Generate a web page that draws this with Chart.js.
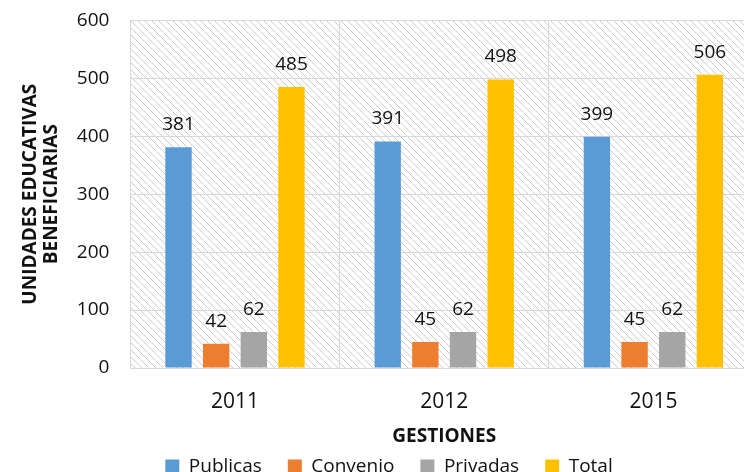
<!DOCTYPE html>
<html>
<head>
<meta charset="utf-8">
<script src="https://cdn.jsdelivr.net/npm/chart.js@4/dist/chart.umd.min.js"></script>
<style>
  html, body { margin: 0; padding: 0; background: #fff; overflow: hidden; }
  #wrap { width: 800px; height: 498px; margin-top: -12px; }
</style>
</head>
<body>
<div id="wrap"><canvas id="chart" width="800" height="498"></canvas></div>
<script>
const years = ["2011", "2012", "2015"]
const publicas = [381, 391, 399]
const convenio = [42, 45, 45]
const privadas = [62, 62, 62]
const total = [485, 498, 506]
const yTicks = [0, 100, 200, 300, 400, 500, 600]

const FONT = "'Open Sans', sans-serif"

// Diagonal hatch behind the plot
function hatchPattern(ctx) {
  const s = 7
  const c = document.createElement("canvas")
  c.width = s
  c.height = s
  const p = c.getContext("2d")
  p.strokeStyle = "#cccccc"
  p.lineWidth = 1
  p.beginPath()
  p.moveTo(-1, -1); p.lineTo(s + 1, s + 1)
  p.moveTo(-1, s - 1); p.lineTo(1, s + 1)
  p.moveTo(s - 1, -1); p.lineTo(s + 1, 1)
  p.stroke()
  return ctx.createPattern(c, "repeat")
}

const hatchPlugin = {
  id: "hatch",
  beforeDraw(chart) {
    const { ctx, chartArea: a } = chart
    ctx.save()
    ctx.fillStyle = hatchPattern(ctx)
    ctx.fillRect(a.left, a.top, a.right - a.left, a.bottom - a.top)
    ctx.restore()
  },
}

// Value labels above each bar
const labelPlugin = {
  id: "valueLabels",
  afterDatasetsDraw(chart) {
    const { ctx } = chart
    ctx.save()
    ctx.font = "19px " + FONT
    ctx.fillStyle = "#111"
    ctx.textAlign = "center"
    ctx.textBaseline = "alphabetic"
    chart.data.datasets.forEach((ds, i) => {
      chart.getDatasetMeta(i).data.forEach((bar, j) => {
        ctx.fillText(ds.data[j], bar.x, bar.y - 17)
      })
    })
    ctx.restore()
  },
}

const ctx = document.getElementById("chart").getContext("2d")

new Chart(ctx, {
  type: "bar",
  data: {
    labels: years,
    datasets: [
      { label: "Publicas", data: publicas, backgroundColor: "#5B9BD5" },
      { label: "Convenio", data: convenio, backgroundColor: "#ED7D31" },
      { label: "Privadas", data: privadas, backgroundColor: "#A5A5A5" },
      { label: "Total", data: total, backgroundColor: "#FFC000" },
    ],
  },
  options: {
    responsive: false,
    animation: false,
    layout: { padding: { top: 0, right: 42, left: 20, bottom: 0 } },
    datasets: {
      bar: { categoryPercentage: 0.72, barPercentage: 0.7 },
    },
    scales: {
      x: {
        grid: { color: "#d9d9d9", drawTicks: false },
        border: { color: "#d9d9d9" },
        ticks: { color: "#111", font: { family: FONT, size: 21 }, padding: 21 },
        title: {
          display: true,
          text: "GESTIONES",
          color: "#111",
          font: { family: FONT, size: 19, weight: "bold" },
          padding: { top: -10, bottom: -17 },
        },
      },
      y: {
        min: 0,
        max: 600,
        afterBuildTicks(axis) {
          axis.ticks = yTicks.map((v) => ({ value: v }))
        },
        grid: { color: "#d9d9d9", drawTicks: false },
        border: { color: "#d9d9d9" },
        ticks: { color: "#111", font: { family: FONT, size: 19 }, padding: 21 },
        title: {
          display: true,
          text: ["UNIDADES EDUCATIVAS", "BENEFICIARIAS"],
          color: "#111",
          font: { family: FONT, size: 19, weight: "bold", lineHeight: 1.1 },
          padding: { top: 0, bottom: -6 },
        },
      },
    },
    plugins: {
      legend: {
        position: "bottom",
        labels: {
          color: "#111",
          font: { family: FONT, size: 19 },
          boxWidth: 14,
          boxHeight: 14,
          padding: 26,
        },
      },
      tooltip: { enabled: false },
    },
  },
  plugins: [hatchPlugin, labelPlugin],
})
</script>
</body>
</html>
